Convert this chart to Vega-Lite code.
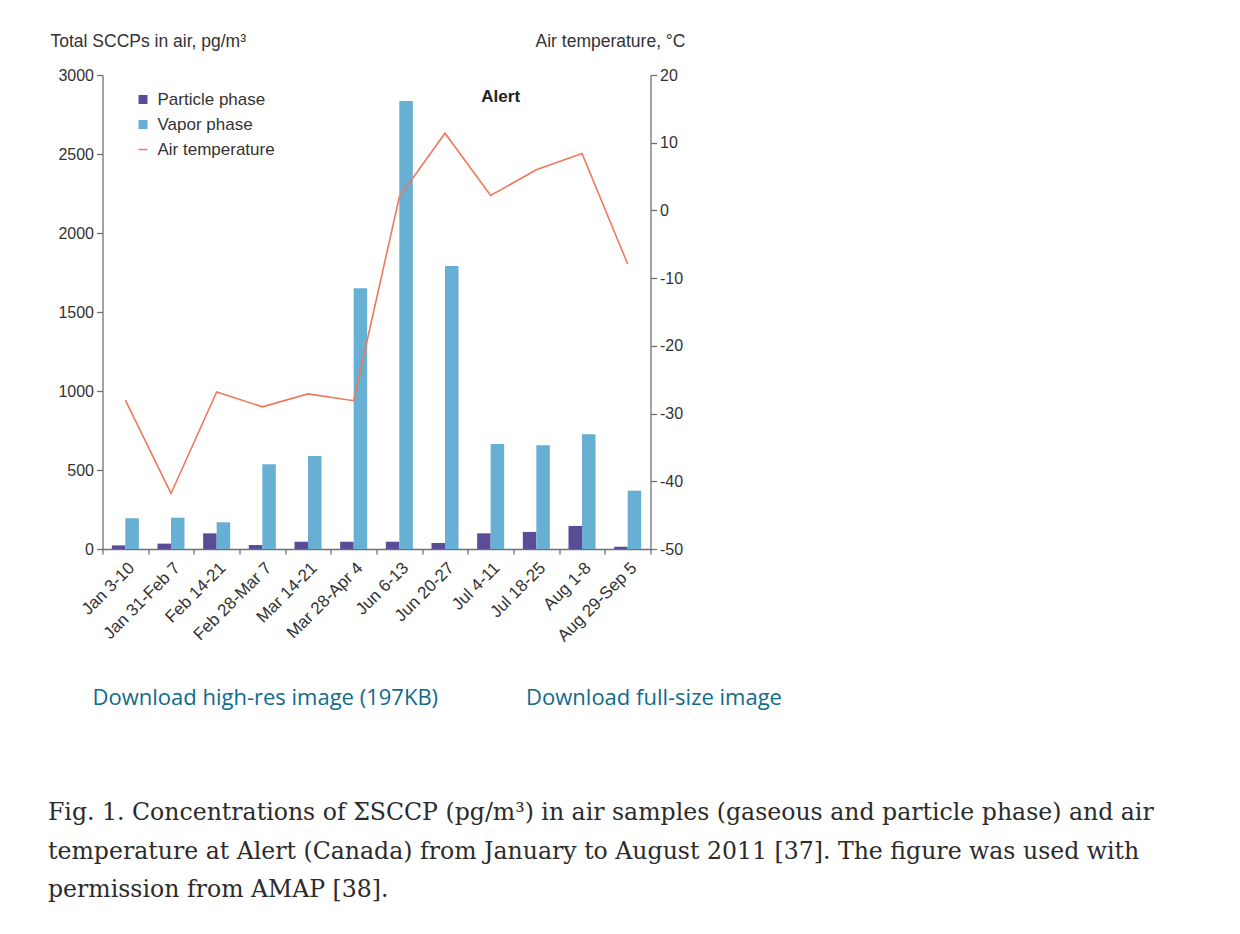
{
  "$schema": "https://vega.github.io/schema/vega-lite/v6.json",
  "width": 548,
  "height": 474,
  "autosize": "none",
  "padding": {"left": 102.5, "top": 75, "right": 589.5, "bottom": 385},
  "background": "white",
  "config": {
    "view": {"stroke": null},
    "axis": {
      "grid": false,
      "domainColor": "#707070",
      "domainWidth": 1.3,
      "tickColor": "#707070",
      "tickWidth": 1.3,
      "tickSize": 6,
      "labelFont": "Liberation Sans",
      "labelFontSize": 16,
      "labelColor": "#333333",
      "titleFont": "Liberation Sans",
      "titleFontSize": 17.5,
      "titleFontWeight": "normal",
      "titleColor": "#333333"
    },
    "legend": {"labelFont": "Liberation Sans"}
  },
  "datasets": {
    "bars": [
      {"period": "Jan 3-10", "phase": "Particle phase", "value": 23},
      {"period": "Jan 3-10", "phase": "Vapor phase", "value": 194},
      {"period": "Jan 31-Feb 7", "phase": "Particle phase", "value": 34},
      {"period": "Jan 31-Feb 7", "phase": "Vapor phase", "value": 198},
      {"period": "Feb 14-21", "phase": "Particle phase", "value": 99},
      {"period": "Feb 14-21", "phase": "Vapor phase", "value": 169},
      {"period": "Feb 28-Mar 7", "phase": "Particle phase", "value": 25},
      {"period": "Feb 28-Mar 7", "phase": "Vapor phase", "value": 536},
      {"period": "Mar 14-21", "phase": "Particle phase", "value": 46},
      {"period": "Mar 14-21", "phase": "Vapor phase", "value": 589},
      {"period": "Mar 28-Apr 4", "phase": "Particle phase", "value": 46},
      {"period": "Mar 28-Apr 4", "phase": "Vapor phase", "value": 1650},
      {"period": "Jun 6-13", "phase": "Particle phase", "value": 46},
      {"period": "Jun 6-13", "phase": "Vapor phase", "value": 2835},
      {"period": "Jun 20-27", "phase": "Particle phase", "value": 38},
      {"period": "Jun 20-27", "phase": "Vapor phase", "value": 1791},
      {"period": "Jul 4-11", "phase": "Particle phase", "value": 99},
      {"period": "Jul 4-11", "phase": "Vapor phase", "value": 665},
      {"period": "Jul 18-25", "phase": "Particle phase", "value": 108},
      {"period": "Jul 18-25", "phase": "Vapor phase", "value": 656},
      {"period": "Aug 1-8", "phase": "Particle phase", "value": 146},
      {"period": "Aug 1-8", "phase": "Vapor phase", "value": 726},
      {"period": "Aug 29-Sep 5", "phase": "Particle phase", "value": 15},
      {"period": "Aug 29-Sep 5", "phase": "Vapor phase", "value": 369}
    ],
    "temp": [
      {"period": "Jan 3-10", "series": "Air temperature", "temp": -28.0},
      {"period": "Jan 31-Feb 7", "series": "Air temperature", "temp": -41.8},
      {"period": "Feb 14-21", "series": "Air temperature", "temp": -26.8},
      {"period": "Feb 28-Mar 7", "series": "Air temperature", "temp": -29.0},
      {"period": "Mar 14-21", "series": "Air temperature", "temp": -27.1},
      {"period": "Mar 28-Apr 4", "series": "Air temperature", "temp": -28.1},
      {"period": "Jun 6-13", "series": "Air temperature", "temp": 2.0},
      {"period": "Jun 20-27", "series": "Air temperature", "temp": 11.4},
      {"period": "Jul 4-11", "series": "Air temperature", "temp": 2.2},
      {"period": "Jul 18-25", "series": "Air temperature", "temp": 6.0},
      {"period": "Aug 1-8", "series": "Air temperature", "temp": 8.4},
      {"period": "Aug 29-Sep 5", "series": "Air temperature", "temp": -7.9}
    ],
    "site": [
      {"period": "Jul 4-11", "label": "Alert", "value": 2860}
    ]
  },
  "title": {
    "text": [
      "Fig. 1. Concentrations of ΣSCCP (pg/m³) in air samples (gaseous and particle phase) and air",
      "temperature at Alert (Canada) from January to August 2011 [37]. The figure was used with",
      "permission from AMAP [38]."
    ],
    "orient": "bottom",
    "anchor": "start",
    "frame": "group",
    "dx": -54.5,
    "offset": 93,
    "baseline": "top",
    "font": "DejaVu Serif",
    "fontSize": 23.6,
    "fontWeight": "normal",
    "color": "#2b2b2b",
    "lineHeight": 38.5
  },
  "encoding": {
    "x": {
      "field": "period",
      "type": "nominal",
      "sort": ["Jan 3-10", "Jan 31-Feb 7", "Feb 14-21", "Feb 28-Mar 7", "Mar 14-21", "Mar 28-Apr 4", "Jun 6-13", "Jun 20-27", "Jul 4-11", "Jul 18-25", "Aug 1-8", "Aug 29-Sep 5"],
      "scale": {"paddingInner": 0, "paddingOuter": 0},
      "axis": {
        "labelAngle": -45,
        "labelAlign": "right",
        "labelBaseline": "middle",
        "labelFontSize": 17,
        "labelPadding": 11,
        "labelOffset": 6,
        "tickBand": "extent",
        "tickSize": 5,
        "title": "Download high-res image (197KB)\u2003\u2003\u2003\u2003Download full-size image",
        "titleFont": "Open Sans",
        "titleFontSize": 22,
        "titleColor": "#0e6b8c",
        "titleAlign": "left",
        "titleAnchor": "start",
        "titleBaseline": "middle",
        "titleX": -10.5,
        "titleY": 148
      }
    }
  },
  "layer": [
    {
      "layer": [
        {
          "data": {"name": "bars"},
          "mark": {"type": "bar"},
          "encoding": {
            "xOffset": {
              "field": "phase",
              "type": "nominal",
              "sort": ["Particle phase", "Vapor phase"],
              "scale": {"paddingInner": 0, "paddingOuter": 0.69}
            },
            "y": {
              "field": "value",
              "type": "quantitative",
              "scale": {"domain": [0, 3000], "nice": false},
              "axis": {
                "orient": "left",
                "values": [0, 500, 1000, 1500, 2000, 2500, 3000],
                "format": "d",
                "labelPadding": 3,
                "title": "Total SCCPs in air, pg/m³",
                "titleAngle": 0,
                "titleAlign": "left",
                "titleAnchor": "start",
                "titleBaseline": "middle",
                "titleX": -52.5,
                "titleY": -34
              }
            },
            "color": {
              "field": "phase",
              "type": "nominal",
              "scale": {
                "domain": ["Particle phase", "Vapor phase", "Air temperature"],
                "range": ["#5a4c96", "#68afd4", "#f0785a"]
              },
              "legend": {
                "orient": "none",
                "legendX": 32,
                "legendY": 16,
                "title": null,
                "padding": 0,
                "labelFontSize": 17,
                "labelColor": "#333333",
                "labelOffset": 6,
                "symbolSize": 81,
                "rowPadding": 7,
                "encode": {
                  "symbols": {
                    "update": {
                      "shape": {"signal": "datum.value === 'Air temperature' ? 'stroke' : 'square'"},
                      "fill": {"signal": "datum.value === 'Air temperature' ? 'transparent' : scale('color', datum.value)"},
                      "stroke": {"signal": "scale('color', datum.value)"},
                      "strokeWidth": {"signal": "datum.value === 'Air temperature' ? 1.5 : 0"},
                      "size": {"value": 81},
                      "opacity": {"value": 1}
                    }
                  }
                }
              }
            }
          }
        },
        {
          "data": {"name": "site"},
          "mark": {"type": "text", "fontWeight": "bold", "fontSize": 17, "font": "Liberation Sans", "color": "#222222", "dx": 10, "baseline": "middle", "align": "center"},
          "encoding": {
            "y": {"field": "value", "type": "quantitative"},
            "text": {"field": "label"}
          }
        }
      ]
    },
    {
      "data": {"name": "temp"},
      "mark": {"type": "line", "strokeWidth": 1.6},
      "encoding": {
        "y": {
          "field": "temp",
          "type": "quantitative",
          "scale": {"domain": [-50, 20], "nice": false},
          "axis": {
            "orient": "right",
            "values": [-50, -40, -30, -20, -10, 0, 10, 20],
            "labelExpr": "toString(datum.value)",
            "labelPadding": 3,
            "title": "Air temperature, °C",
            "titleAngle": 0,
            "titleAlign": "right",
            "titleAnchor": "end",
            "titleBaseline": "middle",
            "titleX": 34.5,
            "titleY": -34
          }
        },
        "color": {"field": "series", "type": "nominal"}
      }
    }
  ],
  "resolve": {"scale": {"y": "independent"}}
}
